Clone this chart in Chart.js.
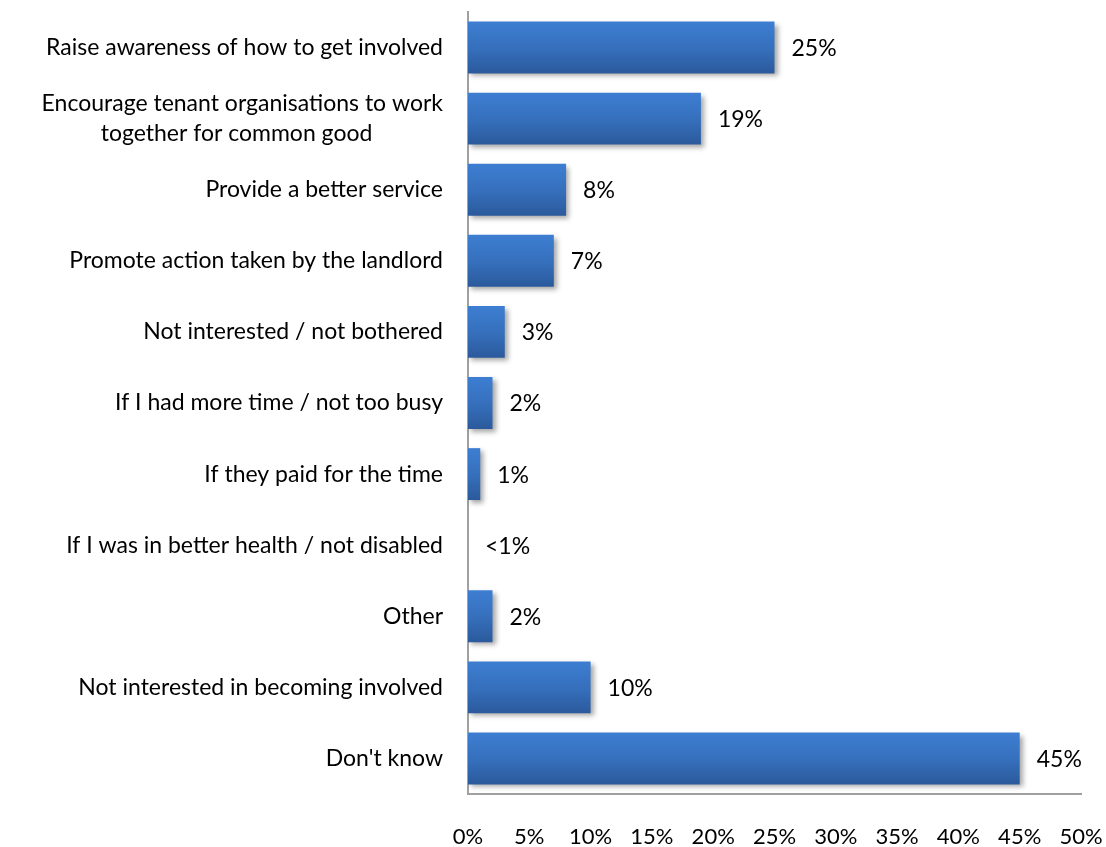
<!DOCTYPE html>
<html>
<head>
<meta charset="utf-8">
<script src="https://cdn.jsdelivr.net/npm/chart.js@4/dist/chart.umd.min.js"></script>
<style>
    body { margin: 0; background: #fff; }
    #wrap { width: 1106px; height: 847px; position: relative; }
</style>
</head>
<body>
<div id="wrap"><canvas id="myChart" width="1106" height="847"></canvas></div>
<script>
// categories, top to bottom
var categories = [
    "Raise awareness of how to get involved",
    ["Encourage tenant organisations to work", "together for common good            "],
    "Provide a better service",
    "Promote action taken by the landlord",
    "Not interested / not bothered",
    "If I had more time / not too busy",
    "If they paid for the time",
    "If I was in better health / not disabled",
    "Other",
    "Not interested in becoming involved",
    "Don't know"
];
var values = [25, 19, 8, 7, 3, 2, 1, 0, 2, 10, 45];
var valueLabels = ["25%", "19%", "8%", "7%", "3%", "2%", "1%", "<1%", "2%", "10%", "45%"];
var xTicks = [0, 5, 10, 15, 20, 25, 30, 35, 40, 45, 50];

const FONT = "Lato, 'Open Sans', sans-serif";
const BAR_PCT = 0.73;

function barFill(ctx) {
    let chart = ctx.chart;
    if (!chart.chartArea || !chart.scales.y) return '#3670bd';
    let yScale = chart.scales.y;
    let cy = yScale.getPixelForValue(ctx.dataIndex);
    let h = yScale.height / categories.length * BAR_PCT;
    let g = chart.ctx.createLinearGradient(0, cy - h / 2, 0, cy + h / 2);
    g.addColorStop(0, '#3d7ed2');
    g.addColorStop(0.5, '#3670bd');
    g.addColorStop(1, '#2b5a9c');
    return g;
}

// soft shadow behind bars
const shadowPlugin = {
    id: 'barShadow',
    beforeDatasetDraw(chart) {
        let c = chart.ctx;
        c.save();
        c.shadowColor = 'rgba(0,0,0,0.35)';
        c.shadowBlur = 5;
        c.shadowOffsetX = 3;
        c.shadowOffsetY = 3;
    },
    afterDatasetDraw(chart) {
        chart.ctx.restore();
    }
};

// value labels right of each bar
const labelPlugin = {
    id: 'valueLabels',
    afterDatasetsDraw(chart) {
        let c = chart.ctx;
        let meta = chart.getDatasetMeta(0);
        c.save();
        c.font = "23px " + FONT;
        c.fillStyle = '#000';
        c.textAlign = 'left';
        c.textBaseline = 'middle';
        meta.data.forEach((bar, i) => {
            c.fillText(valueLabels[i], bar.x + 17, bar.y + 1);
        });
        c.restore();
    }
};

new Chart("myChart", {
    type: "bar",
    data: {
        labels: categories,
        datasets: [{
            data: values,
            backgroundColor: barFill,
            borderWidth: 0,
            barPercentage: BAR_PCT,
            categoryPercentage: 1
        }]
    },
    plugins: [shadowPlugin, labelPlugin],
    options: {
        indexAxis: 'y',
        responsive: false,
        animation: false,
        layout: { padding: { top: 12, right: 25, left: 0, bottom: 0 } },
        plugins: {
            legend: { display: false },
            tooltip: { enabled: false }
        },
        scales: {
            x: {
                min: 0,
                max: 50,
                afterBuildTicks: (scale) => {
                    scale.ticks = xTicks.map(v => ({ value: v }));
                },
                afterFit: (scale) => {
                    scale.height = 53;
                    scale.paddingLeft = 0;
                    scale.paddingRight = 0;
                },
                grid: { display: false, drawTicks: false },
                border: { display: true, color: '#a0a0a0', width: 2 },
                ticks: {
                    padding: 30,
                    color: '#000',
                    font: { family: FONT, size: 22 },
                    callback: (v) => v + '%'
                }
            },
            y: {
                afterFit: (scale) => {
                    scale.width = 468;
                    scale.paddingTop = 0;
                    scale.paddingBottom = 0;
                },
                grid: { display: false, drawTicks: false },
                border: { display: true, color: '#a0a0a0', width: 2 },
                ticks: {
                    padding: 25,
                    color: '#000',
                    font: { family: FONT, size: 23, lineHeight: 1.3 },
                    autoSkip: false
                }
            }
        }
    }
});
</script>
</body>
</html>
